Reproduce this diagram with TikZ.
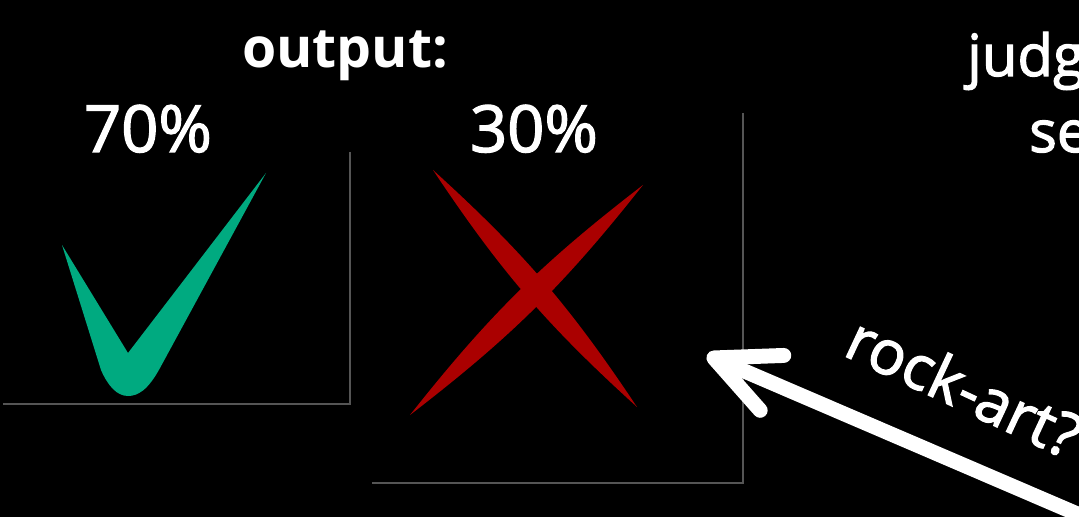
\documentclass[tikz,border=0pt]{standalone}
\usepackage{fontspec}
\setmainfont{Open Sans}
\newfontfamily\semib[FakeBold=2]{Open Sans}
\usepackage{tikz}
\usetikzlibrary{positioning,arrows.meta}
\usepackage{xcolor}
\definecolor{tickgreen}{RGB}{0,170,128}
\definecolor{crossred}{RGB}{170,0,0}
\definecolor{framegray}{RGB}{85,85,85}

\begin{document}
\begin{tikzpicture}[x=0.02cm,y=-0.02cm,
    frameline/.style={framegray,line width=0.9pt},
    pct/.style={white,font=\fontsize{37}{44}\semib,anchor=base},
    hdr/.style={white,font=\fontsize{33}{40}\semib,anchor=base west}]
        \fill[black] (0,0) rectangle (1079,517);
        \clip (0,0) rectangle (1079,517);
        % texts
        \node[white,font=\fontsize{31.5}{38}\bfseries,anchor=base] (out) at (345,68) {output:};
        \node[pct] (good) at (148,152) {70\%};
        \node[pct] (bad) at (534,152) {30\%};
        \node[hdr] (judge) at (961,76) {judg};
        \node[hdr] (sel) at (1023,152) {se};
        % frames
        \draw[frameline] (350,152) -- (350,404) -- (3,404);
        \draw[frameline] (743,113) -- (743,483) -- (372,483);
        % tick
        \fill[tickgreen] (62,245) -- (128,353) -- (266,173) -- (160,368)
          .. controls (148,390) and (138,396) .. (128,396)
          .. controls (117,396) and (108,386) .. (101,370) -- cycle;
        % cross
        \coordinate (c1a) at (433,170);
        \coordinate (c1b) at (637,407);
        \coordinate (c2a) at (643,185);
        \coordinate (c2b) at (410,415);
        \fill[crossred] (c1a) to[bend left=7] (c1b) to[bend left=7] (c1a);
        \fill[crossred] (c2a) to[bend left=7] (c2b) to[bend left=7] (c2a);
        % arrow
        \coordinate (tail) at (1103,525);
        \coordinate (tip) at (707,355);
        \draw[white,line width=8.5pt,-{Straight Barb[length=36pt,width=34pt,round]}] (tail) -- (tip);
        \node[white,font=\fontsize{35}{42}\semib,rotate=-25,anchor=base west] (rock) at (836,352) {rock-art?};
      \end{tikzpicture}
\end{document}
